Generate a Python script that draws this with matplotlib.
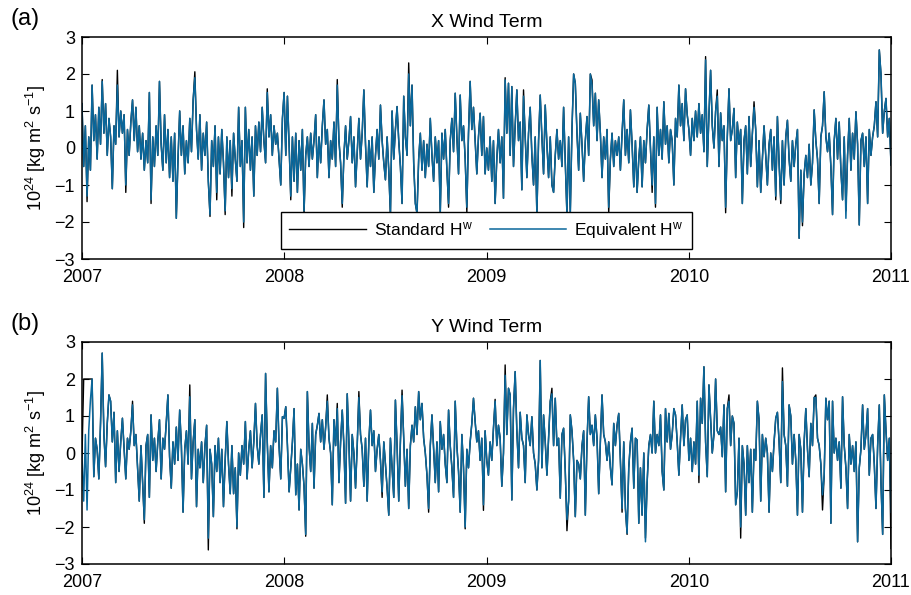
import numpy as np
import matplotlib
matplotlib.use('Agg')
import matplotlib.pyplot as plt
import matplotlib.dates as mdates
from datetime import datetime

plt.rcParams['font.family'] = ['Liberation Sans', 'DejaVu Sans']
plt.rcParams['mathtext.fontset'] = 'custom'
plt.rcParams['mathtext.rm'] = 'Liberation Sans'
plt.rcParams['mathtext.it'] = 'Liberation Sans:italic'
plt.rcParams['mathtext.default'] = 'regular'

years = [2007, 2008, 2009, 2010]
year_labels = ['2007', '2008', '2009', '2010', '2011']
yticks = [-3, -2, -1, 0, 1, 2, 3]
titles = ['X Wind Term', 'Y Wind Term']
panel_tags = ['(a)', '(b)']
legend_labels = ['Standard H$^{w}$', 'Equivalent H$^{w}$']

# ---- X wind term, Equivalent H^w (values every ~3 days per year) ----
eqx_2007 = [1.2, -0.5, 0.6, -1.3, 0.3, -0.6, 1.7, 0.2, 0.9, -0.3, 1.1, 0.1, 1.8, 0.4, 1.2, -0.2, 0.8, 0.3, -1.1, 0.6,
            0.1, 1.7, 0.3, 1.0, 0.4, 0.9, -1.0, 0.5, -0.2, 0.7, 1.3, 0.2, 1.1, -0.1, 0.6, -0.3, 0.4, -0.6, 0.2, -0.4,
            1.5, -1.4, 0.3, -0.5, 0.6, -0.2, 1.8, 0.1, -0.6, 0.9, -0.4, 0.5, -0.8, 0.3, -0.9, 0.4, -1.9, -0.3, 1.0, -0.2,
            0.6, -0.7, 0.2, -0.4, 0.8, -0.1, 1.3, 1.9, 0.5, -0.3, 0.9, -0.6, 0.4, -0.2, 0.7, -0.9, -1.8, 0.2, -0.5, 0.6,
            -1.2, 0.3, -0.7, 0.5, -0.4, -1.7, 0.3, -0.8, 0.2, -1.1, 0.4, -0.3, -0.9, 1.1, -0.5, 0.2, -2.0, 1.1, -0.4, 0.5,
            -0.6, 0.3, -1.3, 0.6, -0.2, 0.7, -0.1, 1.1, 0.2, -0.4, 1.5, 0.3, 0.9, -0.2, 0.6, 0.1, 0.4, -0.3, -1.0, 0.8]
eqx_2008 = [1.5, -0.2, 1.4, 0.1, -1.3, 0.3, -0.9, 0.4, -1.2, 0.2, -0.6, 0.5, -1.7, -0.2, 0.3, -0.5, 0.4, -0.3, 0.2, 0.9,
            -0.8, 0.3, -0.4, 0.6, 1.3, 0.1, 0.5, -0.8, 0.2, -0.3, 0.7, -0.5, 1.7, 0.2, -0.4, -1.5, -0.2, 0.6, -0.3, 0.2,
            0.85, -0.4, 0.3, -1.05, -0.1, 0.8, -0.3, 0.4, 1.57, 0.1, -1.05, 0.2, -0.5, 0.3, -1.2, -0.2, 0.5, -0.3, 1.16, 0.2,
            -0.4, -0.86, 0.3, -0.6, -1.77, 1.0, -0.3, 0.5, 1.12, 0.2, -0.5, -1.5, 1.4, 0.3, -0.2, 2.0, 0.6, 1.7, -0.4, -1.5,
            -1.77, -0.3, 0.4, -0.6, 0.2, -0.8, 0.1, -0.5, 0.8, -0.2, -0.9, 0.3, -0.4, 0.2, -1.77, 0.4, -0.3, 0.5, -0.6, -1.5,
            0.2, 0.8, -0.1, 1.48, 0.3, -0.7, 1.43, 0.2, 0.6, -0.3, -1.6, 0.4, 1.8, 0.5, 1.1, 0.2, -0.7, 0.3, 0.94, -0.2,
            0.85, -0.7]
eqx_2009 = [0.0, -0.6, 0.3, -0.9, 0.2, -1.5, -0.3, 0.5, -0.4, 0.3, -1.36, 1.84, 0.4, 1.75, -0.2, 1.66, -0.5, 0.6, 1.57, 0.2,
            0.7, -1.13, 1.4, 0.3, -0.8, 0.4, 1.1, -0.2, -1.0, 0.3, -1.77, 0.2, 1.43, 0.3, -0.7, 1.16, 0.1, -0.8, 0.3, -1.0,
            -1.2, -0.2, 0.5, -0.3, 0.2, -0.5, 1.1, -0.4, -1.77, 0.3, -1.77, 0.5, 2.0, 1.75, 0.4, -0.6, 0.94, 0.1, -0.9, 0.2,
            0.85, -0.2, 2.0, 1.7, 0.6, 1.48, 0.2, 1.3, 0.4, -0.8, 0.3, -0.3, 0.5, -1.6, -0.3, 0.4, -0.5, 0.2, -0.2, 0.3,
            -0.6, 0.4, 1.3, -0.2, 0.5, -0.4, 1.03, 0.1, -1.05, 0.2, -1.2, -0.3, 0.3, -1.05, 0.2, -0.4, 0.5, 1.16, 0.0, -1.0,
            0.3, -1.5, 1.1, -0.2, 0.5, -0.3, 1.25, 0.1, 0.6, -0.4, 0.5, 0.2, -1.0, 0.8, 0.3, 1.7, 0.6, 1.2, 0.2, 1.6,
            0.9]
eqx_2010 = [0.5, -0.2, 0.8, 0.2, 1.0, 0.3, 1.2, 0.4, 0.9, -0.1, 2.38, -0.5, 0.9, 2.1, 0.6, 0.0, 1.0, 1.4, -0.5, 0.95,
            0.2, 0.6, -1.6, 0.3, 1.6, 0.2, 0.5, 1.07, -0.8, 0.7, 0.1, 0.5, -1.5, 0.2, 0.6, -0.7, 0.85, -0.5, 0.4, 1.1,
            0.5, -1.05, 0.2, -1.2, -0.3, 0.6, -0.2, -1.0, 0.1, 0.5, -0.6, 0.3, -1.3, 0.85, -0.4, -1.4, 0.2, -1.0, 0.3, 0.75,
            -0.3, -0.9, 0.2, -0.5, 0.1, 0.5, -2.44, -0.6, -2.0, -0.7, -0.2, -0.8, 0.1, -1.0, -0.4, 1.03, 0.2, -0.3, -1.5, 0.3,
            0.6, 1.52, 0.3, -0.1, 0.4, -0.5, -1.8, 0.2, 0.8, -0.3, 0.7, -0.6, -1.4, 0.3, -1.9, -0.2, 0.8, -0.6, 0.4, -0.3,
            0.98, 0.1, -2.08, 0.2, 0.4, -0.5, 0.3, -1.5, 0.5, -0.2, 0.3, 0.6, 1.25, 0.3, 2.65, 2.0, 0.4, 1.0, 1.34, 0.3,
            0.8, -0.46]
# Standard H^w differs from Equivalent only at these samples: (year, sample, value)
stdx_changes = [(2007, 3, -1.45), (2007, 12, 1.85), (2007, 21, 2.1), (2007, 26, -1.2), (2007, 41, -1.5),
                (2007, 67, 2.06), (2007, 76, -1.85), (2007, 80, -1.4), (2007, 85, -1.8), (2007, 89, -1.3),
                (2007, 96, -2.15), (2007, 110, 1.6),
                (2008, 4, -1.4), (2008, 12, -1.8), (2008, 32, 1.85), (2008, 35, -1.6), (2008, 64, -1.85),
                (2008, 75, 2.3), (2008, 99, -1.6), (2008, 110, -1.75),
                (2009, 11, 1.9), (2009, 22, 1.57), (2009, 30, -1.85), (2009, 48, -1.85), (2009, 63, 1.84),
                (2009, 73, -1.77), (2009, 99, -1.2), (2009, 101, -1.6),
                (2010, 10, 2.47), (2010, 17, 1.57), (2010, 22, -1.75), (2010, 39, 1.25), (2010, 52, -1.4),
                (2010, 55, -1.5), (2010, 68, -2.1), (2010, 94, -1.7)]

# ---- Y wind term, Equivalent H^w ----
eqy_2007 = [-0.1, -1.3, 0.5, -1.54, 0.6, 1.43, 2.0, -0.64, 0.4, 0.1, -0.7, 0.8, 2.7, 0.5, -0.37, 0.8, 1.57, 1.4, 0.3, 1.1,
            -0.8, 0.6, -0.5, 0.3, 0.94, 0.1, -0.7, 0.4, 0.1, 0.6, 1.3, 0.2, 0.5, -0.4, -1.3, 0.2, -0.8, -1.8, 0.2, 0.5,
            -1.2, 1.03, -0.2, 0.4, -0.5, 0.3, 0.9, -0.7, 0.4, 0.1, 0.8, 1.57, -0.1, -0.95, 0.3, -0.3, 0.7, -0.2, 1.16, 0.2,
            -1.6, 0.1, 0.6, -0.3, 1.52, -0.7, 0.3, 0.9, -1.45, 0.1, -0.4, 0.3, -0.8, 0.2, 0.75, -2.3, 0.1, -0.3, -1.72, 0.2,
            -0.5, 0.4, -0.8, 0.1, -1.45, -0.2, 0.85, -0.3, -1.1, 0.2, -1.1, -0.4, -2.0, 0.0, -0.6, 0.2, -0.3, 0.85, -0.7, 0.1,
            0.6, -0.4, 0.3, 1.34, 0.2, -0.3, 0.5, 1.03, -1.2, 2.15, 0.3, -1.05, 0.2, -0.4, 0.6, 0.3, 1.75, 0.2, -0.7, 0.98]
eqy_2008 = [0.94, 1.25, 0.2, -1.05, -0.4, 0.3, 1.2, -1.13, -0.3, -1.54, 0.1, -0.3, -0.9, -2.2, 1.66, 0.2, -0.5, 0.8, -0.95, 0.5,
            0.75, 1.07, 0.3, 0.9, 0.1, 0.7, 1.4, 0.4, 0.0, -1.4, 0.9, 0.2, 1.2, -0.8, 0.3, 1.16, 0.2, -1.36, 1.6, 0.3,
            -1.3, 0.5, 0.0, -0.95, 0.2, 1.5, 0.5, 0.1, -0.9, 0.4, -1.3, 0.3, 1.16, 0.2, 0.6, -0.5, 0.1, 0.5, -0.2, -1.05,
            0.3, -0.3, -0.95, -1.68, 0.4, -0.4, -1.2, 1.43, 0.2, -1.3, 0.3, 1.55, 0.4, -0.9, 0.1, -1.5, 0.2, 0.75, 0.3, 1.25,
            0.5, 1.66, 0.9, 1.34, 0.4, 0.0, -0.6, -1.5, 0.2, 1.03, 0.1, -0.8, 0.3, -1.05, 0.85, 0.1, 0.5, -0.3, -0.8, 1.16,
            0.2, -0.4, -1.2, 1.4, 0.2, -0.5, -1.6, 0.5, -0.4, -2.0, 0.1, -0.4, 0.3, 0.8, 1.48, 0.85, 0.3, 0.6, -0.2, 0.4,
            -1.4, 0.6]
eqy_2009 = [-0.2, -0.6, 0.3, -0.2, 0.67, 1.4, 0.2, 0.75, 0.4, -0.9, 0.0, 2.1, 0.5, 1.75, 1.57, -1.27, 1.2, 2.2, 0.6, -0.4,
            1.1, 0.4, 0.2, -0.8, 1.03, 0.5, 0.2, 0.98, 0.0, -0.3, -1.0, -0.2, 2.5, -0.4, 1.03, 0.3, -0.6, 0.4, 1.4, 1.6,
            0.2, 1.48, 0.2, 0.4, -1.22, 0.5, 0.67, -0.5, -1.8, -1.3, 1.03, 0.6, -0.2, -1.72, -0.2, -0.3, -0.7, 0.2, 0.6, -1.68,
            0.3, 1.52, 0.5, 0.75, 0.2, 1.03, 0.4, -1.1, 0.3, 1.57, 0.5, 0.3, -0.2, 0.3, -0.4, -0.86, 0.8, 0.2, 0.75, 1.07,
            -0.2, -1.5, 0.3, -1.5, -2.17, -0.4, 0.3, 0.67, -0.95, 0.4, 0.35, -1.9, -0.4, -1.68, 0.0, -2.4, -0.8, 0.2, 0.5, 0.0,
            1.4, 0.0, 0.5, 0.2, 1.03, -0.5, -1.0, 1.2, 0.3, 1.07, 0.1, 0.5, 1.2, 1.03, 0.3, -0.6, 0.4, 1.3, 0.2, 0.9,
            1.03]
eqy_2010 = [-0.2, 0.4, -0.5, 0.3, -0.3, 1.4, -0.6, 1.48, 0.8, 2.33, 0.3, -0.64, 1.84, 0.9, 0.0, 0.5, 2.0, 0.6, 0.5, 0.7,
            -0.1, 1.3, -1.05, 1.2, 1.4, 0.2, 1.0, 0.8, -1.4, -1.05, 0.4, -2.0, 0.2, -0.3, -1.68, 0.2, -0.8, 0.1, -1.6, 0.1,
            -0.2, 1.4, 0.9, -1.3, 0.5, -0.1, 0.4, 0.0, -1.6, 0.0, -0.5, 0.3, 0.94, 1.1, 0.3, -0.8, 1.93, 0.5, 0.2, -0.9,
            1.3, 1.0, -0.3, 0.5, -0.2, -1.68, 0.5, 0.1, -1.6, 0.3, 1.2, 0.1, -0.64, 0.8, 0.2, 1.5, 1.5, 0.4, 0.2, -0.3,
            -1.13, -0.6, 1.48, 0.9, 1.4, -1.9, 1.4, 0.0, 0.4, -0.2, 0.3, -0.95, 1.52, 0.2, -0.4, -1.5, 0.5, -0.3, 0.2, -0.5,
            0.3, -2.4, -0.4, 0.1, 1.3, 0.1, 0.5, 1.2, -0.6, 0.4, 0.5, -0.3, -1.5, 0.2, 1.3, -0.8, -2.2, 1.57, 0.6, -0.2,
            0.4, -1.6]
stdy_changes = [(2007, 1, 2.0), (2007, 2, 2.0), (2007, 3, 2.0), (2007, 4, 2.0), (2007, 5, 2.0),
                (2007, 30, 1.4), (2007, 37, -1.9), (2007, 64, 1.84), (2007, 75, -2.62), (2007, 92, -2.05),
                (2008, 13, -2.25), (2008, 26, 1.57), (2008, 32, 1.34), (2008, 45, 1.66), (2008, 59, -1.2),
                (2008, 71, 1.7), (2008, 87, -1.6), (2008, 109, -2.05), (2008, 120, -1.55),
                (2009, 5, 1.45), (2009, 11, 2.38), (2009, 39, 1.75), (2009, 48, -2.1), (2009, 81, -1.6),
                (2009, 84, -2.2), (2009, 95, -2.3),
                (2010, 6, -0.8), (2010, 24, 1.57), (2010, 31, -2.3), (2010, 56, 2.3), (2010, 76, 1.57),
                (2010, 80, -1.54), (2010, 121, -2.58)]

blue = '#0a679b'


def build(year_lists, changes):
    xs, eq, std = [], [], []
    for k, (yr, vals) in enumerate(zip(years, year_lists)):
        t0 = mdates.date2num(datetime(yr, 1, 1))
        t1 = mdates.date2num(datetime(yr + 1, 1, 1))
        last = (k == len(years) - 1)
        t = np.linspace(t0, t1, len(vals), endpoint=last)
        s = list(vals)
        for cy, ci, cv in changes:
            if cy == yr:
                s[ci] = cv
        xs.extend(t)
        eq.extend(vals)
        std.extend(s)
    return np.array(xs), np.array(eq), np.array(std)


fig = plt.figure(figsize=(9.11, 5.95), dpi=100)
W, H = 911, 595
left, right = 82 / W, 891 / W
axes_px = [(37, 259), (342, 564)]
data = [build([eqx_2007, eqx_2008, eqx_2009, eqx_2010], stdx_changes),
        build([eqy_2007, eqy_2008, eqy_2009, eqy_2010], stdy_changes)]
tag_y = [19, 324]

year_ticks = [mdates.date2num(datetime(int(y), 1, 1)) for y in year_labels]

for p, ((top, bot), (x, eq, std)) in enumerate(zip(axes_px, data)):
    ax = fig.add_axes([left, 1 - bot / H, right - left, (bot - top) / H])
    l1, = ax.plot(x, std, color='black', lw=1.0)
    l2, = ax.plot(x, eq, color=blue, lw=1.1)
    ax.set_xlim(year_ticks[0], year_ticks[-1])
    ax.set_ylim(-3, 3)
    ax.set_xticks(year_ticks)
    ax.set_xticklabels(year_labels)
    ax.set_yticks(yticks)
    ax.tick_params(direction='in', top=True, right=True, length=5, width=0.8,
                   labelsize=13)
    ax.tick_params(axis='x', pad=7.5)
    ax.tick_params(axis='y', pad=5)
    for sp in ax.spines.values():
        sp.set_linewidth(1.1)
    ax.set_title(titles[p], fontsize=14, pad=7)
    ax.set_ylabel('10$^{24}$ [kg m$^{2}$ s$^{-1}$]', fontsize=13, labelpad=5)
    fig.text(10 / W, 1 - tag_y[p] / H, panel_tags[p], fontsize=17, va='center', ha='left')
    if p == 0:
        leg = ax.legend([l1, l2], legend_labels, loc='center', ncol=2,
                        bbox_to_anchor=(0.5, 0.128), fontsize=12.5, handlelength=4.4,
                        columnspacing=1.0, handletextpad=0.46, fancybox=False,
                        framealpha=1, edgecolor='black', borderpad=0.45,
                        borderaxespad=0)
        leg.get_frame().set_linewidth(1.0)

fig.savefig('out.png', dpi=100)
